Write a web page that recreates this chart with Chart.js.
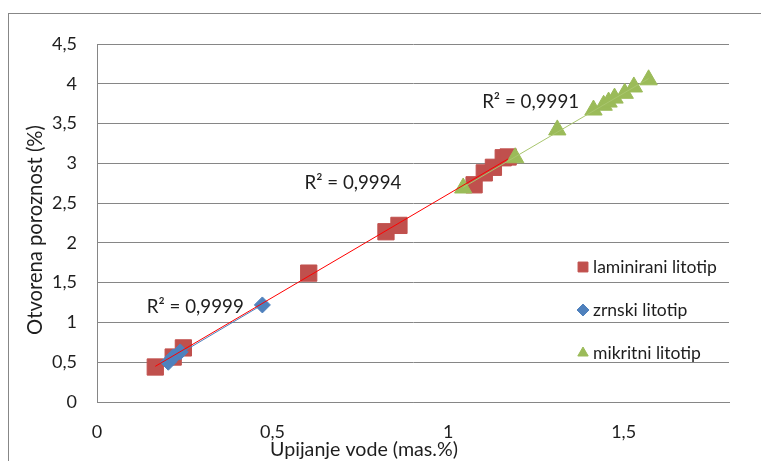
<!DOCTYPE html>
<html><head><meta charset="utf-8">
<script src="https://cdn.jsdelivr.net/npm/chart.js@4"></script>
<style>html,body{margin:0;padding:0;background:#fff}#wrap{width:761px;height:461px}</style>
</head><body><div id="wrap"><canvas id="c" width="761" height="461"></canvas></div>
<script>
// ---- data ----
const seriesNames = ['laminirani litotip', 'zrnski litotip', 'mikritni litotip'];
const laminiraniX = [0.166, 0.217, 0.246, 0.603, 0.823, 0.860, 1.074, 1.103, 1.129, 1.157, 1.171];
const laminiraniY = [0.44, 0.565, 0.68, 1.62, 2.14, 2.22, 2.73, 2.88, 2.95, 3.07, 3.08];
const zrnskiX = [0.203, 0.217, 0.237, 0.471];
const zrnskiY = [0.50, 0.565, 0.63, 1.22];
const mikritniX = [1.043, 1.191, 1.311, 1.414, 1.443, 1.457, 1.474, 1.503, 1.529, 1.571];
const mikritniY = [2.69, 3.07, 3.42, 3.67, 3.73, 3.77, 3.82, 3.88, 3.96, 4.05];
const r2Texts = ['R² = 0,9994', 'R² = 0,9999', 'R² = 0,9991'];
const xTicks = [0, 0.5, 1, 1.5];
const yTicks = [0, 0.5, 1, 1.5, 2, 2.5, 3, 3.5, 4, 4.5];
const xTitle = 'Upijanje vode (mas.%)';
const yTitle = 'Otvorena poroznost (%)';

// ---- helpers ----
const pts = (xs, ys) => xs.map((x, i) => ({x, y: ys[i]}));
function trend(xs, ys) {
  const n = xs.length;
  const mx = xs.reduce((a, b) => a + b, 0) / n, my = ys.reduce((a, b) => a + b, 0) / n;
  let sxy = 0, sxx = 0;
  xs.forEach((x, i) => { sxy += (x - mx) * (ys[i] - my); sxx += (x - mx) * (x - mx); });
  const b = sxy / sxx, a = my - b * mx;
  const lo = Math.min(...xs), hi = Math.max(...xs);
  return [{x: lo, y: a + b * lo}, {x: hi, y: a + b * hi}];
}
const fmt = v => String(v).replace('.', ',');
const FONT = 'Lato, "Open Sans", sans-serif';
const TXT = '#1e1e1e';
const colors = ['#C0504D', '#4F81BD', '#9BBB59'];
const styles = ['rect', 'rectRot', 'triangle'];

function fitFont(ctx, text, width) {
  ctx.font = '20px ' + FONT;
  const size = 20 * width / ctx.measureText(text).width;
  ctx.font = size.toFixed(2) + 'px ' + FONT;
}

// R² label anchors in data units (series order: laminirani, zrnski, mikritni)
const r2Anchor = [{x: 0.729, y: 2.75}, {x: 0.28, y: 1.20}, {x: 1.235, y: 3.77}];

const framePlugin = {
  id: 'frame',
  beforeDraw(chart) {
    const ctx = chart.ctx;
    ctx.save();
    ctx.fillStyle = '#fff';
    ctx.fillRect(0, 0, chart.width, chart.height);
    ctx.strokeStyle = '#878787';
    ctx.lineWidth = 1;
    ctx.strokeRect(8.5, 13.5, 900, 600);
    ctx.restore();
  },
  afterDraw(chart) {
    const ctx = chart.ctx;
    const xs = chart.scales.x, ys = chart.scales.y;
    ctx.save();
    ctx.fillStyle = TXT;
    ctx.textBaseline = 'middle';
    // axis titles
    ctx.textAlign = 'center';
    fitFont(ctx, xTitle, 188);
    ctx.fillText(xTitle, 364, 450);
    ctx.save();
    ctx.translate(35, 230);
    ctx.rotate(-Math.PI / 2);
    fitFont(ctx, yTitle, 210);
    ctx.fillText(yTitle, 0, 0);
    ctx.restore();
    // R² labels
    r2Texts.forEach((t, i) => {
      fitFont(ctx, t, 97);
      ctx.fillText(t, xs.getPixelForValue(r2Anchor[i].x), ys.getPixelForValue(r2Anchor[i].y));
    });
    // legend
    const rowY = [267, 310, 353];
    ctx.textAlign = 'left';
    fitFont(ctx, seriesNames[0], 124);
    const legendFont = ctx.font;
    seriesNames.forEach((name, i) => {
      ctx.fillStyle = colors[i];
      ctx.strokeStyle = colors[i];
      ctx.lineWidth = 1;
      Chart.helpers.drawPoint(ctx, {pointStyle: styles[i], radius: i === 0 ? 7 : 6, rotation: 0, borderWidth: 1}, 583, rowY[i]);
      ctx.fillStyle = TXT;
      ctx.font = legendFont;
      ctx.fillText(name, 593, rowY[i]);
    });
    ctx.restore();
  }
};

const scatterSets = [
  {label: seriesNames[0], data: pts(laminiraniX, laminiraniY), pointStyle: 'rect', pointRadius: 11.5, order: 3},
  {label: seriesNames[1], data: pts(zrnskiX, zrnskiY), pointStyle: 'rectRot', pointRadius: 8, order: 2},
  {label: seriesNames[2], data: pts(mikritniX, mikritniY), pointStyle: 'triangle', pointRadius: 10, order: 2}
].map((d, i) => Object.assign(d, {
  type: 'scatter', backgroundColor: colors[i], borderColor: colors[i], borderWidth: 1, pointHoverRadius: d.pointRadius
}));

const trendSets = [
  {data: trend(zrnskiX, zrnskiY), borderColor: '#4F81BD', order: 0.5},
  {data: trend(laminiraniX, laminiraniY), borderColor: '#FF0000', order: 0},
  {data: trend(mikritniX, mikritniY), borderColor: '#A9C66E', order: 0}
].map(d => Object.assign(d, {type: 'line', borderWidth: 1, pointRadius: 0, fill: false, showLine: true}));

new Chart(document.getElementById('c'), {
  type: 'scatter',
  data: {datasets: [...scatterSets, ...trendSets]},
  options: {
    responsive: false, animation: false, devicePixelRatio: 1,
    layout: {padding: {top: 44, right: 32, left: 0, bottom: 0}},
    plugins: {legend: {display: false}, tooltip: {enabled: false}},
    scales: {
      x: {
        type: 'linear', min: 0, max: 1.8,
        afterBuildTicks: s => { s.ticks = xTicks.map(v => ({value: v})); },
        afterFit: s => { s.height = 59; },
        grid: {display: false, drawTicks: false},
        border: {display: true, color: '#868686', width: 1},
        ticks: {padding: 19, color: TXT, font: {family: FONT, size: 18}, maxRotation: 0, callback: v => fmt(v)},
        title: {display: false}
      },
      y: {
        type: 'linear', min: 0, max: 4.5,
        afterBuildTicks: s => { s.ticks = yTicks.map(v => ({value: v})); },
        afterFit: s => { s.width = 97; },
        grid: {color: '#868686', lineWidth: 1, drawTicks: false},
        border: {display: true, color: '#868686', width: 1},
        ticks: {padding: 20, color: TXT, font: {family: FONT, size: 18}, callback: v => fmt(v)},
        title: {display: false}
      }
    }
  },
  plugins: [framePlugin]
});
</script>
</body></html>
